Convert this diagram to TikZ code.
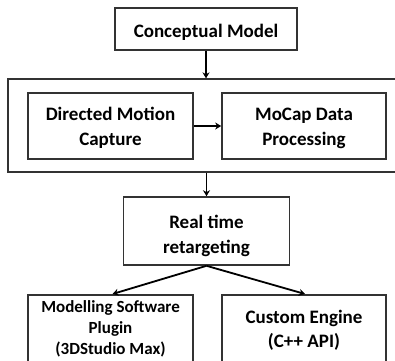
\documentclass[tikz,border=0pt]{standalone}
\usepackage{fontspec}
\setmainfont{Carlito}
\usetikzlibrary{arrows.meta}
\begin{document}
\begin{tikzpicture}[x=1pt,y=-1pt,
  big/.style={font=\fontsize{19}{25}\selectfont\bfseries},
  box/.style={draw=black!80, line width=1.6pt, rectangle, align=center,
    inner sep=0pt, big},
  label/.style={align=center, inner sep=0pt, big},
  frame/.style={draw=black!80, line width=1.3pt, rectangle, inner sep=0pt},
  flow/.style={draw=black, line width=1.8pt, -{Stealth[length=6pt,width=7pt]}}]
\useasboundingbox (0,0) rectangle (395,360);
\clip (0,0) rectangle (395,360);

% top stage
\node[box, minimum width=182pt, minimum height=42pt] (conc) at (206,29) {};
\node[label] (conctext) at (206,32) {Conceptual Model};

% capture stage grouped in a frame
\node[frame, minimum width=394pt, minimum height=93pt] (grp) at (205,125.5) {};
\node[box, minimum width=165pt, minimum height=66pt] (dmc) at (110.5,126) {};
\node[label] (dmctext) at (110.5,128) {Directed Motion\\Capture};
\node[box, minimum width=164pt, minimum height=66pt] (moc) at (304,126) {};
\node[label] (moctext) at (304,128) {MoCap Data\\Processing};

% retargeting
\node[box, minimum width=166pt, minimum height=68pt] (rt) at (206.5,231) {};
\node[label] (rttext) at (206.5,236) {Real time\\retargeting};

% targets (their lower part runs past the page)
\node[box, minimum width=165pt, minimum height=80pt, anchor=north] (msp) at (110.5,294) {};
\node[box, minimum width=164pt, minimum height=80pt, anchor=north] (cust) at (304,294) {};
\node[label, font=\fontsize{17}{21}\selectfont\bfseries] (msptext) at (110.5,329) {Modelling Software\\Plugin\\(3DStudio Max)};
\node[label, font=\fontsize{19}{24}\selectfont\bfseries] (custtext) at (304,330) {Custom Engine\\(C++ API)};

% connectors
\draw[flow] (conc.south) -- (conc.south |- grp.north);
\draw[flow] (dmc.east) -- (moc.west);
\draw[flow] (grp.south -| rt.north) -- (rt.north);
\draw[flow] (rt.south) -- ([xshift=2pt]msp.north);
\draw[flow] (rt.south) -- ([xshift=1pt]cust.north);
\end{tikzpicture}
\end{document}
